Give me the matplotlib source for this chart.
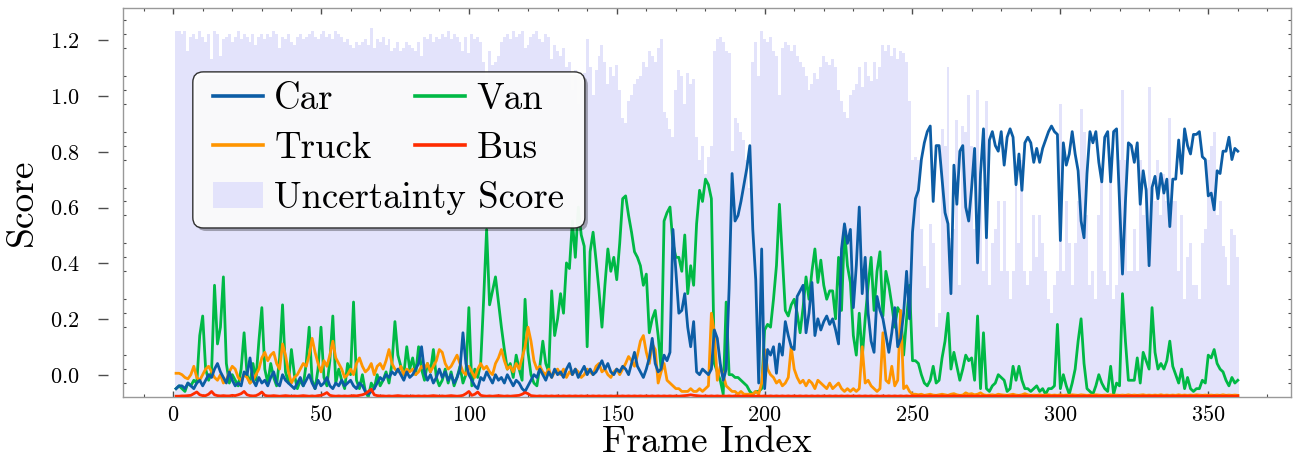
import numpy as np
import matplotlib
matplotlib.use("Agg")
import matplotlib.pyplot as plt
from matplotlib.ticker import MultipleLocator, NullLocator
from matplotlib.patches import Patch, FancyBboxPatch
from matplotlib.lines import Line2D
import matplotlib.transforms as mtransforms

plt.rcParams["font.family"] = ["cmr10", "DejaVu Serif"]
plt.rcParams["mathtext.fontset"] = "cm"
plt.rcParams["axes.formatter.use_mathtext"] = True

# frame index 1..360
frames = np.arange(1, 361)

car = [
    0.03, 0.04, 0.04, 0.03, 0.05, 0.04, 0.03, 0.05, 0.06, 0.04,
    0.06, 0.08, 0.07, 0.10, 0.12, 0.09, 0.07, 0.05, 0.09, 0.06,
    0.04, 0.05, 0.04, 0.09, 0.08, 0.14, 0.06, 0.04, 0.07, 0.05,
    0.06, 0.04, 0.07, 0.09, 0.05, 0.04, 0.08, 0.06, 0.05, 0.04,
    0.03, 0.05, 0.07, 0.04, 0.06, 0.08, 0.05, 0.03, 0.06, 0.04,
    0.05, 0.07, 0.04, 0.03, 0.05, 0.04, 0.06, 0.04, 0.05, 0.06,
    0.04, 0.03, 0.05, 0.04, 0.02, 0.01, 0.02, 0.03, 0.05, 0.07,
    0.06, 0.08, 0.07, 0.09, 0.08, 0.10, 0.08, 0.06, 0.09, 0.07,
    0.08, 0.10, 0.12, 0.18, 0.09, 0.06, 0.08, 0.05, 0.07, 0.10,
    0.07, 0.09, 0.06, 0.08, 0.05, 0.07, 0.10, 0.23, 0.12, 0.08,
    0.06, 0.04, 0.03, 0.07, 0.06, 0.09, 0.07, 0.05, 0.08, 0.06,
    0.07, 0.05, 0.08, 0.06, 0.04, 0.06, 0.05, 0.03, 0.02, 0.04,
    0.06, 0.08, 0.07, 0.10, 0.08, 0.06, 0.09, 0.07, 0.10, 0.08,
    0.09, 0.07, 0.10, 0.12, 0.08, 0.10, 0.07, 0.09, 0.11, 0.08,
    0.10, 0.08, 0.09, 0.11, 0.13, 0.10, 0.12, 0.09, 0.08, 0.10,
    0.09, 0.11, 0.10, 0.08, 0.12, 0.16, 0.11, 0.09, 0.07, 0.10,
    0.14, 0.21, 0.12, 0.09, 0.10, 0.15, 0.13, 0.16, 0.60, 0.45,
    0.30, 0.31, 0.37, 0.25, 0.18, 0.27, 0.09, 0.08, 0.10, 0.09,
    0.08, 0.10, 0.24, 0.21, 0.12, 0.06, 0.10, 0.39, 0.80, 0.63,
    0.65, 0.70, 0.76, 0.82, 0.90, 0.60, 0.42, 0.05, 0.53, 0.03,
    0.17, 0.15, 0.18, 0.085, 0.19, 0.15, 0.27, 0.22, 0.18, 0.17,
    0.36, 0.38, 0.40, 0.23, 0.30, 0.41, 0.22, 0.28, 0.24, 0.27,
    0.29, 0.26, 0.28, 0.24, 0.19, 0.53, 0.62, 0.55, 0.60, 0.32,
    0.47, 0.68, 0.37, 0.50, 0.30, 0.20, 0.16, 0.36, 0.31, 0.28,
    0.22, 0.16, 0.23, 0.32, 0.18, 0.21, 0.30, 0.45, 0.28, 0.59,
    0.71, 0.74, 0.85, 0.91, 0.95, 0.97, 0.70, 0.90, 0.90, 0.78,
    0.66, 0.62, 0.37, 0.83, 0.69, 0.88, 0.90, 0.68, 0.63, 0.75,
    0.89, 0.48, 0.80, 0.96, 0.57, 0.92, 0.95, 0.90, 0.88, 0.95,
    0.83, 0.93, 0.96, 0.93, 0.76, 0.87, 0.74, 0.91, 0.93, 0.91,
    0.84, 0.89, 0.84, 0.89, 0.92, 0.95, 0.97, 0.95, 0.94, 0.56,
    0.91, 0.83, 0.87, 0.95, 0.87, 0.81, 0.63, 0.57, 0.80, 0.95,
    0.91, 0.95, 0.84, 0.77, 0.93, 0.95, 0.77, 0.95, 0.96, 0.70,
    0.44, 0.70, 0.91, 0.90, 0.84, 0.91, 0.69, 0.81, 0.74, 0.47,
    0.75, 0.79, 0.71, 0.80, 0.73, 0.78, 0.61, 0.78, 0.78, 0.92,
    0.80, 0.96, 0.90, 0.87, 0.94, 0.94, 0.95, 0.86, 0.85, 0.72,
    0.73, 0.67, 0.81, 0.80, 0.88, 0.88, 0.93, 0.85, 0.89, 0.88,
]

van = [
    0.03, 0.04, 0.03, 0.02, 0.05, 0.04, 0.06, 0.05, 0.22, 0.29,
    0.10, 0.06, 0.09, 0.40, 0.19, 0.25, 0.43, 0.12, 0.05, 0.08,
    0.06, 0.04, 0.10, 0.23, 0.08, 0.05, 0.12, 0.06, 0.20, 0.32,
    0.10, 0.05, 0.12, 0.07, 0.04, 0.14, 0.33, 0.09, 0.05, 0.17,
    0.08, 0.03, 0.06, 0.04, 0.12, 0.25, 0.06, 0.03, 0.10, 0.25,
    0.07, 0.04, 0.13, 0.29, 0.05, 0.10, 0.06, 0.03, 0.12, 0.08,
    0.34, 0.06, 0.03, 0.08, 0.02, 0.00, 0.05, 0.03, 0.08, 0.04,
    0.06, 0.09, 0.05, 0.12, 0.27, 0.15, 0.11, 0.08, 0.18, 0.10,
    0.14, 0.08, 0.18, 0.10, 0.06, 0.12, 0.09, 0.17, 0.07, 0.04,
    0.06, 0.10, 0.05, 0.09, 0.04, 0.07, 0.11, 0.05, 0.08, 0.32,
    0.04, 0.10, 0.07, 0.12, 0.35, 0.60, 0.33, 0.38, 0.43, 0.34,
    0.25, 0.17, 0.10, 0.12, 0.07, 0.15, 0.10, 0.06, 0.35, 0.16,
    0.08, 0.05, 0.04, 0.11, 0.20, 0.12, 0.09, 0.38, 0.22, 0.28,
    0.37, 0.30, 0.48, 0.46, 0.63, 0.50, 0.68, 0.58, 0.54, 0.18,
    0.52, 0.59, 0.49, 0.38, 0.25, 0.40, 0.53, 0.45, 0.50, 0.42,
    0.55, 0.71, 0.72, 0.65, 0.59, 0.52, 0.50, 0.47, 0.40, 0.44,
    0.23, 0.28, 0.31, 0.22, 0.10, 0.63, 0.66, 0.68, 0.55, 0.50,
    0.50, 0.45, 0.58, 0.37, 0.47, 0.40, 0.62, 0.74, 0.70, 0.78,
    0.76, 0.71, 0.12, 0.09, 0.06, 0.01, 0.34, 0.08, 0.08, 0.07,
    0.07, 0.06, 0.05, 0.04, 0.02, 0.01, 0.02, 0.02, 0.03, 0.24,
    0.26, 0.25, 0.35, 0.47, 0.69, 0.50, 0.31, 0.29, 0.33, 0.35,
    0.30, 0.23, 0.32, 0.43, 0.35, 0.45, 0.53, 0.41, 0.49, 0.40,
    0.35, 0.38, 0.38, 0.28, 0.50, 0.31, 0.60, 0.47, 0.41, 0.22,
    0.15, 0.30, 0.14, 0.28, 0.40, 0.50, 0.31, 0.45, 0.52, 0.29,
    0.45, 0.40, 0.33, 0.25, 0.32, 0.30, 0.15, 0.28, 0.40, 0.13,
    0.13, 0.12, 0.08, 0.05, 0.04, 0.06, 0.11, 0.05, 0.06, 0.14,
    0.20, 0.30, 0.10, 0.16, 0.11, 0.06, 0.10, 0.15, 0.13, 0.14,
    0.06, 0.29, 0.03, 0.23, 0.03, 0.02, 0.04, 0.05, 0.08, 0.07,
    0.06, 0.02, 0.03, 0.11, 0.06, 0.11, 0.06, 0.03, 0.03, 0.02,
    0.03, 0.04, 0.02, 0.03, 0.01, 0.03, 0.03, 0.04, 0.26, 0.03,
    0.08, 0.04, 0.01, 0.05, 0.10, 0.20, 0.28, 0.12, 0.03, 0.02,
    0.01, 0.04, 0.08, 0.05, 0.03, 0.02, 0.11, 0.01, 0.05, 0.04,
    0.37, 0.20, 0.06, 0.06, 0.06, 0.14, 0.05, 0.16, 0.13, 0.10,
    0.32, 0.16, 0.10, 0.12, 0.10, 0.13, 0.20, 0.11, 0.08, 0.05,
    0.10, 0.03, 0.07, 0.03, 0.02, 0.03, 0.03, 0.06, 0.05, 0.15,
    0.14, 0.17, 0.12, 0.10, 0.09, 0.06, 0.04, 0.07, 0.05, 0.06,
]

truck = [
    0.085, 0.085, 0.08, 0.07, 0.065, 0.08, 0.11, 0.07, 0.06, 0.08,
    0.10, 0.11, 0.09, 0.07, 0.06, 0.08, 0.05, 0.06, 0.09, 0.11,
    0.10, 0.07, 0.06, 0.08, 0.07, 0.05, 0.06, 0.08, 0.10, 0.14,
    0.16, 0.13, 0.15, 0.16, 0.12, 0.10, 0.19, 0.15, 0.09, 0.05,
    0.07, 0.08, 0.10, 0.12, 0.11, 0.15, 0.21, 0.16, 0.12, 0.09,
    0.13, 0.11, 0.15, 0.20, 0.14, 0.12, 0.10, 0.07, 0.08, 0.10,
    0.08, 0.12, 0.14, 0.11, 0.09, 0.10, 0.12, 0.08, 0.11, 0.12,
    0.10, 0.13, 0.17, 0.12, 0.10, 0.09, 0.11, 0.08, 0.10, 0.09,
    0.10, 0.08, 0.09, 0.11, 0.10, 0.12, 0.09, 0.11, 0.13, 0.17,
    0.16, 0.12, 0.10, 0.11, 0.13, 0.15, 0.12, 0.09, 0.08, 0.11,
    0.09, 0.07, 0.10, 0.12, 0.10, 0.11, 0.09, 0.08, 0.12, 0.14,
    0.17, 0.13, 0.10, 0.11, 0.09, 0.12, 0.10, 0.14, 0.18, 0.25,
    0.20, 0.13, 0.10, 0.11, 0.09, 0.08, 0.10, 0.07, 0.09, 0.10,
    0.08, 0.10, 0.07, 0.09, 0.08, 0.10, 0.09, 0.07, 0.08, 0.10,
    0.09, 0.08, 0.11, 0.12, 0.09, 0.10, 0.08, 0.07, 0.09, 0.10,
    0.08, 0.10, 0.12, 0.145, 0.13, 0.11, 0.15, 0.20, 0.22, 0.16,
    0.12, 0.19, 0.17, 0.05, 0.09, 0.12, 0.06, 0.05, 0.04, 0.03,
    0.03, 0.02, 0.02, 0.02, 0.03, 0.02, 0.02, 0.03, 0.02, 0.03,
    0.04, 0.30, 0.23, 0.06, 0.11, 0.08, 0.04, 0.03, 0.02, 0.02,
    0.01, 0.02, 0.01, 0.01, 0.01, 0.01, 0.02, 0.01, 0.05, 0.17,
    0.10, 0.08, 0.07, 0.05, 0.06, 0.04, 0.05, 0.07, 0.18, 0.10,
    0.07, 0.05, 0.06, 0.04, 0.06, 0.05, 0.03, 0.06, 0.05, 0.04,
    0.03, 0.05, 0.03, 0.04, 0.05, 0.03, 0.02, 0.03, 0.02, 0.03,
    0.02, 0.03, 0.18, 0.05, 0.06, 0.04, 0.03, 0.02, 0.03, 0.23,
    0.06, 0.05, 0.11, 0.04, 0.06, 0.31, 0.03, 0.04, 0.02, 0.01,
    0.01, 0.008, 0.01, 0.006, 0.008, 0.01, 0.007, 0.006, 0.008, 0.01,
    0.008, 0.006, 0.01, 0.012, 0.008, 0.006, 0.007, 0.015, 0.01, 0.012,
    0.008, 0.01, 0.015, 0.008, 0.006, 0.007, 0.008, 0.006, 0.01, 0.008,
    0.007, 0.006, 0.008, 0.01, 0.007, 0.006, 0.008, 0.012, 0.008, 0.006,
    0.007, 0.006, 0.008, 0.006, 0.007, 0.008, 0.006, 0.007, 0.006, 0.008,
    0.006, 0.007, 0.006, 0.008, 0.007, 0.006, 0.008, 0.007, 0.006, 0.007,
    0.006, 0.008, 0.007, 0.006, 0.007, 0.006, 0.008, 0.006, 0.007, 0.006,
    0.007, 0.006, 0.008, 0.006, 0.007, 0.006, 0.007, 0.008, 0.006, 0.007,
    0.006, 0.007, 0.006, 0.008, 0.006, 0.007, 0.006, 0.007, 0.006, 0.008,
    0.006, 0.007, 0.006, 0.007, 0.006, 0.008, 0.007, 0.006, 0.007, 0.006,
    0.007, 0.006, 0.007, 0.006, 0.008, 0.006, 0.007, 0.006, 0.007, 0.006,
]

bus = [
    0.003, 0.003, 0.004, 0.004, 0.005, 0.006, 0.012, 0.018, 0.008, 0.005,
    0.005, 0.01, 0.02, 0.008, 0.005, 0.004, 0.005, 0.004, 0.004, 0.006,
    0.005, 0.008, 0.012, 0.02, 0.008, 0.005, 0.004, 0.005, 0.01, 0.018,
    0.006, 0.004, 0.004, 0.005, 0.004, 0.003, 0.004, 0.005, 0.004, 0.003,
    0.004, 0.003, 0.004, 0.005, 0.004, 0.003, 0.004, 0.003, 0.005, 0.006,
    0.01, 0.016, 0.006, 0.004, 0.003, 0.004, 0.003, 0.004, 0.003, 0.004,
    0.005, 0.004, 0.006, 0.008, 0.012, 0.02, 0.028, 0.008, 0.005, 0.004,
    0.004, 0.003, 0.004, 0.003, 0.004, 0.005, 0.004, 0.003, 0.004, 0.003,
    0.004, 0.003, 0.004, 0.003, 0.004, 0.003, 0.004, 0.005, 0.004, 0.003,
    0.004, 0.003, 0.004, 0.005, 0.004, 0.003, 0.004, 0.006, 0.012, 0.02,
    0.006, 0.01, 0.018, 0.006, 0.004, 0.003, 0.004, 0.003, 0.004, 0.005,
    0.004, 0.003, 0.004, 0.003, 0.004, 0.005, 0.006, 0.01, 0.016, 0.012,
    0.005, 0.004, 0.003, 0.004, 0.003, 0.004, 0.003, 0.004, 0.003, 0.004,
    0.003, 0.004, 0.003, 0.004, 0.003, 0.004, 0.003, 0.004, 0.003, 0.004,
    0.003, 0.004, 0.003, 0.004, 0.003, 0.004, 0.003, 0.004, 0.003, 0.004,
    0.003, 0.004, 0.003, 0.004, 0.003, 0.004, 0.003, 0.004, 0.003, 0.004,
    0.003, 0.004, 0.003, 0.004, 0.003, 0.004, 0.003, 0.004, 0.003, 0.004,
    0.003, 0.004, 0.005, 0.006, 0.008, 0.006, 0.005, 0.004, 0.003, 0.004,
    0.003, 0.004, 0.003, 0.004, 0.003, 0.004, 0.003, 0.004, 0.003, 0.004,
    0.003, 0.004, 0.003, 0.004, 0.003, 0.004, 0.003, 0.004, 0.003, 0.004,
    0.003, 0.004, 0.003, 0.004, 0.003, 0.004, 0.003, 0.004, 0.003, 0.004,
    0.003, 0.004, 0.003, 0.004, 0.003, 0.004, 0.003, 0.004, 0.003, 0.004,
    0.003, 0.004, 0.003, 0.004, 0.003, 0.004, 0.003, 0.004, 0.003, 0.004,
    0.003, 0.004, 0.003, 0.004, 0.003, 0.004, 0.003, 0.004, 0.003, 0.004,
    0.003, 0.004, 0.003, 0.004, 0.003, 0.004, 0.003, 0.004, 0.003, 0.004,
    0.003, 0.004, 0.003, 0.004, 0.003, 0.004, 0.003, 0.004, 0.003, 0.004,
    0.003, 0.004, 0.003, 0.004, 0.003, 0.004, 0.003, 0.004, 0.003, 0.004,
    0.003, 0.004, 0.003, 0.004, 0.003, 0.004, 0.003, 0.004, 0.003, 0.004,
    0.003, 0.004, 0.003, 0.004, 0.003, 0.004, 0.003, 0.004, 0.003, 0.004,
    0.003, 0.004, 0.003, 0.004, 0.003, 0.004, 0.003, 0.004, 0.003, 0.004,
    0.003, 0.004, 0.003, 0.004, 0.003, 0.004, 0.003, 0.004, 0.003, 0.004,
    0.003, 0.004, 0.003, 0.004, 0.003, 0.004, 0.003, 0.004, 0.003, 0.004,
    0.003, 0.004, 0.003, 0.004, 0.003, 0.004, 0.003, 0.004, 0.003, 0.004,
    0.003, 0.004, 0.003, 0.004, 0.003, 0.004, 0.003, 0.004, 0.003, 0.004,
    0.003, 0.004, 0.003, 0.004, 0.003, 0.004, 0.003, 0.004, 0.003, 0.004,
    0.003, 0.004, 0.003, 0.004, 0.003, 0.004, 0.003, 0.004, 0.003, 0.004,
]

uncertainty = [
    1.31, 1.31, 1.30, 1.31, 1.24, 1.29, 1.30, 1.28, 1.31, 1.29,
    1.27, 1.30, 1.21, 1.31, 1.30, 1.22, 1.28, 1.29, 1.30, 1.27,
    1.29, 1.31, 1.28, 1.30, 1.29, 1.27, 1.30, 1.26, 1.29, 1.30,
    1.28, 1.30, 1.29, 1.31, 1.30, 1.25, 1.29, 1.28, 1.30, 1.27,
    1.26, 1.29, 1.30, 1.28, 1.29, 1.30, 1.31, 1.29, 1.28, 1.30,
    1.31, 1.29, 1.30, 1.28, 1.31, 1.30, 1.29, 1.27, 1.28, 1.26,
    1.25, 1.27, 1.26, 1.27, 1.28, 1.26, 1.32, 1.25, 1.28, 1.27,
    1.29, 1.26, 1.28, 1.24, 1.25, 1.27, 1.24, 1.25, 1.27, 1.26,
    1.25, 1.24, 1.27, 1.22, 1.29, 1.28, 1.30, 1.27, 1.29, 1.28,
    1.30, 1.29, 1.31, 1.28, 1.30, 1.29, 1.27, 1.24, 1.29, 1.23,
    1.30, 1.28, 1.29, 1.27, 1.20, 1.12, 1.24, 1.19, 1.20, 1.22,
    1.27, 1.29, 1.30, 1.28, 1.31, 1.29, 1.30, 1.31, 1.25, 1.26,
    1.29, 1.30, 1.31, 1.28, 1.27, 1.30, 1.29, 1.21, 1.26, 1.24,
    1.22, 1.25, 1.18, 1.20, 1.10, 1.17, 1.05, 1.12, 1.16, 1.28,
    1.18, 1.08, 1.17, 1.22, 1.26, 1.20, 1.12, 1.18, 1.15, 1.19,
    1.10, 1.00, 0.98, 1.06, 1.08, 1.12, 1.14, 1.15, 1.20, 1.18,
    1.24, 1.22, 1.20, 1.25, 1.28, 1.02, 1.00, 0.96, 0.93, 1.10,
    1.17, 1.15, 1.05, 1.16, 1.12, 1.14, 0.93, 0.85, 0.90, 0.80,
    0.86, 0.90, 1.24, 1.28, 1.29, 1.27, 1.24, 1.23, 0.88, 1.00,
    0.98, 0.95, 0.92, 0.85, 0.75, 1.20, 1.27, 1.15, 1.31, 1.28,
    1.27, 1.29, 1.24, 1.22, 1.08, 1.25, 1.27, 1.26, 1.24, 1.26,
    1.22, 1.20, 1.18, 1.15, 1.10, 1.12, 1.16, 1.14, 1.18, 1.22,
    1.20, 1.19, 1.21, 1.18, 1.10, 1.06, 1.02, 1.00, 1.08, 1.10,
    1.12, 1.18, 1.11, 1.20, 1.15, 1.13, 1.20, 1.14, 1.18, 1.26,
    1.24, 1.26, 1.22, 1.25, 1.21, 1.24, 1.23, 1.20, 1.06, 0.85,
    0.86, 0.85, 0.60, 0.47, 0.39, 0.62, 0.55, 0.25, 0.30, 0.96,
    0.90, 1.18, 0.57, 0.60, 0.99, 0.40, 0.97, 0.95, 1.08, 0.90,
    0.60, 1.10, 0.75, 0.45, 1.06, 0.40, 0.55, 0.60, 0.70, 0.45,
    0.70, 0.45, 0.35, 0.45, 0.80, 0.55, 0.85, 0.45, 0.40, 0.45,
    0.65, 0.50, 0.65, 0.55, 0.45, 0.35, 0.30, 0.40, 0.45, 1.05,
    0.45, 0.70, 0.55, 0.40, 0.55, 0.70, 1.03, 0.95, 0.65, 0.40,
    0.45, 0.35, 0.65, 0.80, 0.45, 0.40, 0.80, 0.35, 0.40, 0.85,
    1.10, 0.85, 0.45, 0.45, 0.60, 0.45, 0.85, 0.65, 0.75, 1.11,
    0.75, 0.70, 0.85, 0.65, 0.80, 0.70, 1.00, 0.70, 0.70, 0.45,
    0.65, 0.35, 0.50, 0.55, 0.40, 0.40, 0.35, 0.55, 0.60, 0.85,
    0.90, 0.95, 0.65, 0.70, 0.54, 0.50, 0.40, 0.60, 0.58, 0.50,
]

# printed score labels sit a bit lower than the data scale
label_shift = 0.078
score_ticks = [0.0, 0.2, 0.4, 0.6, 0.8, 1.0, 1.2]

c_car, c_van, c_truck, c_bus = "#0C5DA5", "#00B945", "#FF9500", "#FF2C00"
c_unc = "#e3e3fb"

fig = plt.figure(figsize=(12.93, 4.63), dpi=100)
ax = fig.add_axes([0.095, 0.1425, 0.9035, 0.8405])

ax.bar(frames, uncertainty, width=1.0, color=c_unc, linewidth=0, zorder=0)
lw = 2.0
ax.plot(frames, car, color=c_car, lw=lw, zorder=3)
ax.plot(frames, van, color=c_van, lw=lw, zorder=2)
ax.plot(frames, truck, color=c_truck, lw=lw, zorder=2.5)
ax.plot(frames, bus, color=c_bus, lw=lw, zorder=4)

ax.set_xlim(-17, 378)
ax.set_ylim(0, 1.393)

for s in ax.spines.values():
    s.set_color("0.6")
    s.set_linewidth(1.0)

ax.xaxis.set_major_locator(MultipleLocator(50))
ax.xaxis.set_minor_locator(MultipleLocator(10))
ax.tick_params(axis="x", which="both", direction="in", top=True, bottom=True,
               color="0.3", labelsize=16, pad=6)
ax.tick_params(axis="x", which="major", length=4.5, width=1.0)
ax.tick_params(axis="x", which="minor", length=2.2, width=0.8)

ax.yaxis.set_major_locator(MultipleLocator(0.2))
ax.yaxis.set_minor_locator(MultipleLocator(0.05))
ax.tick_params(axis="y", which="major", length=0, labelleft=False)
ax.tick_params(axis="y", which="minor", direction="in", left=True, right=True,
               length=2.2, width=0.8, color="0.3")

sec = ax.secondary_yaxis(-0.0128, functions=(lambda y: y - label_shift,
                                              lambda y: y + label_shift))
sec.spines["left"].set_visible(False)
sec.spines["right"].set_visible(False)
sec.set_yticks(score_ticks)
sec.yaxis.set_minor_locator(NullLocator())
sec.tick_params(axis="y", which="major", direction="out", length=7.5, width=1.0,
                color="0.3", pad=13, labelsize=16)
sec.set_ylabel("Score", fontsize=27, labelpad=8)

ax.set_xlabel("Frame Index", fontsize=27, labelpad=0)

# legend box: rounded frame with a drop shadow, wider side padding than
# matplotlib's own legend frame gives
box_x, box_y, box_w, box_h = 0.0599, 0.4344, 0.3356, 0.4011
aspect = (ax.bbox.width / ax.bbox.height)
shadow_off = mtransforms.offset_copy(ax.transAxes, fig=fig, x=2.2, y=-2.2, units="points")
for trans, fc, ec, alpha, z in [
    (shadow_off, "black", "none", 0.3, 4.6),
    (ax.transAxes, "white", "0.15", 0.95, 4.7),
]:
    ax.add_patch(FancyBboxPatch((box_x, box_y), box_w, box_h,
                                boxstyle="round,pad=0,rounding_size=0.009",
                                mutation_aspect=aspect, transform=trans,
                                facecolor=fc, edgecolor=ec, alpha=alpha,
                                linewidth=1.0, zorder=z, clip_on=False))

fs = 26.5
leg_kw = dict(loc="upper left", borderaxespad=0, fontsize=fs, handlelength=1.35,
              handletextpad=0.32, labelspacing=0.42, borderpad=0.3, frameon=False)
h_car = Line2D([], [], color=c_car, lw=2.6)
h_truck = Line2D([], [], color=c_truck, lw=2.6)
h_van = Line2D([], [], color=c_van, lw=2.6)
h_bus = Line2D([], [], color=c_bus, lw=2.6)
h_unc = Patch(facecolor=c_unc, edgecolor="none")

leg1 = ax.legend([h_car, h_truck, h_unc], ["Car", "Truck", "Uncertainty Score"],
                 bbox_to_anchor=(0.0676, 0.835), **leg_kw)
ax.add_artist(leg1)
ax.legend([h_van, h_bus], ["Van", "Bus"], bbox_to_anchor=(0.2406, 0.835), **leg_kw)

fig.savefig("out.png", dpi=100)
